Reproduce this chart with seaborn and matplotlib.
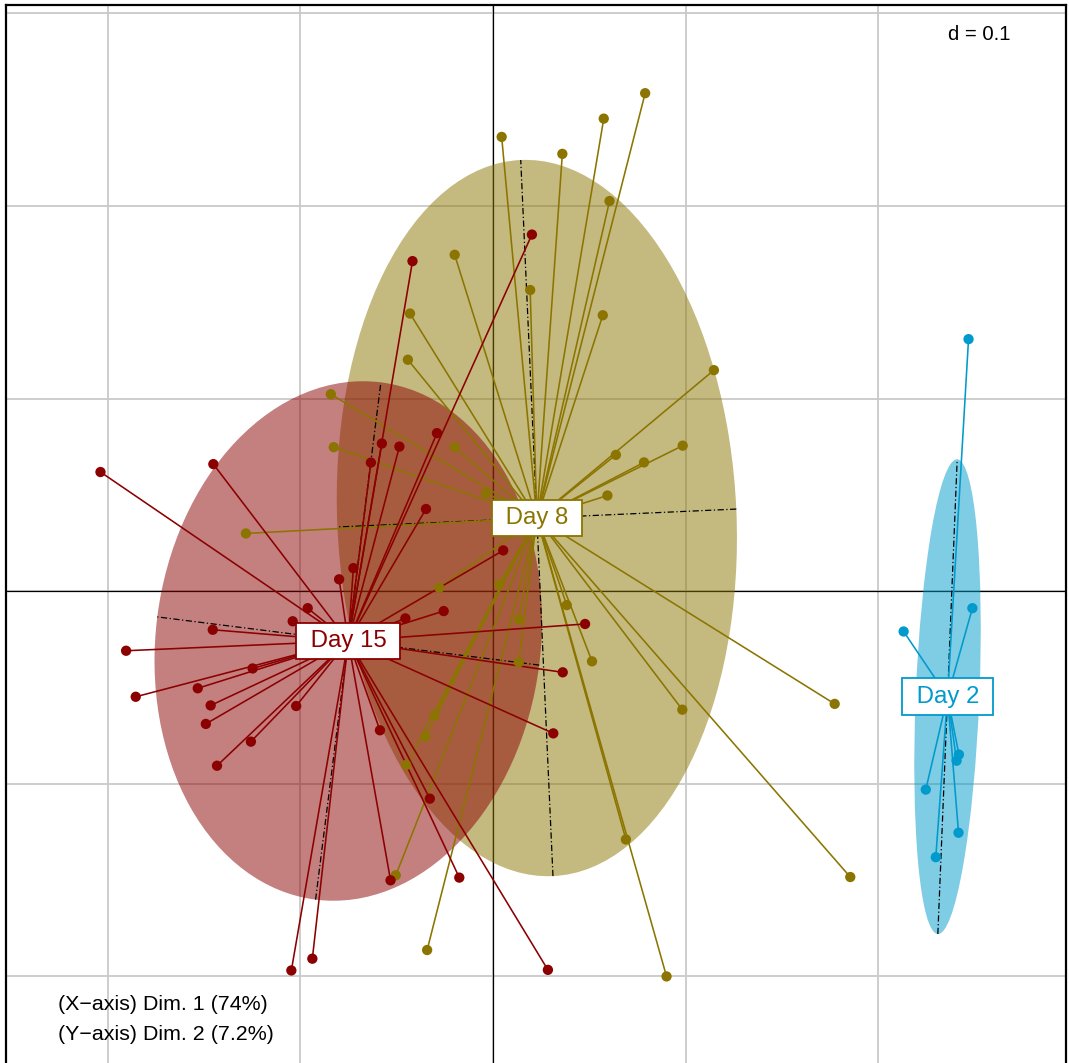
import numpy as np
import pandas as pd
import matplotlib
matplotlib.use("Agg")
import matplotlib.pyplot as plt
from matplotlib.patches import Ellipse
from matplotlib.collections import LineCollection
import seaborn as sns

# ---------------- data ----------------
groups = ["Day 8", "Day 15", "Day 2"]
colors = {"Day 8": "#8B7500", "Day 15": "#8B0000", "Day 2": "#009ACD"}

day15_x = [-0.2038, -0.1452, -0.0418, 0.0202, -0.0577, -0.0486, -0.0634, -0.0291,
           -0.0348, -0.0725, -0.0799, -0.0962, -0.1040, -0.1455, -0.1905, -0.1248,
           -0.1533, -0.1855, -0.1466, -0.1491, -0.1022, -0.1257, -0.1433, -0.0587,
           -0.0328, -0.0532, -0.0175, -0.1047, -0.0938, -0.0256, -0.0455, 0.0053,
           0.0285, 0.0313, 0.0362, 0.0478]
day15_y = [0.0619, 0.0660, 0.1714, 0.1852, 0.0767, 0.0751, 0.0668, 0.0821,
           0.0427, 0.0120, 0.0062, -0.0088, -0.0156, -0.0200, -0.0309, -0.0401,
           -0.0504, -0.0548, -0.0593, -0.0689, -0.0596, -0.0781, -0.0906, -0.0722,
           -0.1077, -0.1501, -0.1487, -0.1969, -0.1908, -0.0103, -0.0141, 0.0212,
           -0.1966, -0.0738, -0.0421, -0.0170]

day8_x = [0.0045, -0.0199, 0.0193, -0.0431, -0.0442, -0.0842, -0.0827, -0.0199,
          -0.0036, -0.1283, 0.0790, 0.0575, 0.0360, 0.0605, 0.0570, 0.1147,
          0.0985, 0.0784, 0.0638, 0.0594, -0.0279, 0.0033, 0.0134, 0.0134,
          -0.0304, -0.0351, -0.0451, -0.0505, -0.0342, 0.0383, 0.0514, 0.0983,
          0.1774, 0.0690, 0.1855, 0.0901]
day8_y = [0.2359, 0.1747, 0.1564, 0.1442, 0.1202, 0.1023, 0.0748, 0.0748,
          0.0509, 0.0300, 0.2586, 0.2454, 0.2271, 0.2026, 0.1433, 0.1148,
          0.0756, 0.0669, 0.0708, 0.0497, 0.0018, 0.0036, -0.0146, -0.0369,
          -0.0645, -0.0754, -0.0902, -0.1475, -0.1863, -0.0072, -0.0364, -0.0615,
          -0.0585, -0.1289, -0.1484, -0.2000]

day2_x = [0.2132, 0.2489, 0.2419, 0.2407, 0.2247, 0.2417, 0.2299, 0.2469]
day2_y = [-0.0209, -0.0088, -0.0848, -0.0880, -0.1030, -0.1254, -0.1381, 0.1309]

grid_x = [-0.2, -0.1, 0.0, 0.1, 0.2]
grid_y = [-0.2, -0.1, 0.0, 0.1, 0.2, 0.3]
xlim = (-0.2527, 0.2974)
ylim = (-0.2460, 0.3044)

d_label = "d = 0.1"
axis_notes = ["(X\u2212axis) Dim. 1 (74%)", "(Y\u2212axis) Dim. 2 (7.2%)"]
cellipse = 1.5

# ---------------- build table ----------------
df = pd.concat([
    pd.DataFrame({"group": "Day 8", "x": day8_x, "y": day8_y}),
    pd.DataFrame({"group": "Day 15", "x": day15_x, "y": day15_y}),
    pd.DataFrame({"group": "Day 2", "x": day2_x, "y": day2_y}),
], ignore_index=True)

# ---------------- figure ----------------
sns.set_theme(style="white")
plt.rcParams["font.family"] = ["Liberation Sans", "DejaVu Sans"]

fig = plt.figure(figsize=(10.69, 10.63), dpi=100)
ax = fig.add_axes([6.3 / 1069, -2 / 1063, 1059.5 / 1069, 1060 / 1063])
ax.set_xlim(*xlim)
ax.set_ylim(*ylim)

ax.set_xticks(grid_x)
ax.set_yticks(grid_y)
ax.grid(True, color="#C9C9C9", linewidth=1.3, zorder=0)
ax.set_axisbelow(True)
ax.tick_params(length=0, labelbottom=False, labelleft=False)
ax.axhline(0, color="black", linewidth=0.9, zorder=1)
ax.axvline(0, color="black", linewidth=0.9, zorder=1)
for sp in ax.spines.values():
    sp.set_color("black")
    sp.set_linewidth(1.6)

centroids = {}
# ellipses (computed from covariance like ade4 s.class)
for g in groups:
    sub = df[df.group == g]
    pts = sub[["x", "y"]].to_numpy()
    c = pts.mean(axis=0)
    centroids[g] = c
    cov = np.cov(pts.T, bias=True)
    evals, evecs = np.linalg.eigh(cov)
    order = np.argsort(evals)[::-1]
    evals, evecs = evals[order], evecs[:, order]
    a, b = cellipse * np.sqrt(evals)
    ang = np.degrees(np.arctan2(evecs[1, 0], evecs[0, 0]))
    ax.add_patch(Ellipse(c, 2 * a, 2 * b, angle=ang, facecolor=colors[g],
                         alpha=0.5, edgecolor="none", zorder=2))
    for v, r in ((evecs[:, 0], a), (evecs[:, 1], b)):
        ax.plot([c[0] - r * v[0], c[0] + r * v[0]], [c[1] - r * v[1], c[1] + r * v[1]],
                color="black", linewidth=0.9, linestyle=(0, (5, 2, 1, 2)), zorder=3)

# star segments
for g in groups:
    sub = df[df.group == g]
    c = centroids[g]
    segs = [[(c[0], c[1]), (px, py)] for px, py in zip(sub.x, sub.y)]
    ax.add_collection(LineCollection(segs, colors=colors[g], linewidths=1.15, zorder=4))

# points
sns.scatterplot(data=df, x="x", y="y", hue="group", palette=colors, s=55,
                linewidth=0, legend=False, ax=ax, zorder=5)
ax.set_xlabel("")
ax.set_ylabel("")

# labels
for g in groups:
    c = centroids[g]
    ax.text(c[0], c[1], " " + g + " ", ha="center", va="center", color=colors[g],
            fontsize=17.3, zorder=6,
            bbox=dict(boxstyle="square,pad=0.3", facecolor="white",
                      edgecolor=colors[g], linewidth=1.3))

ax.text((1010 - 6.3) / 1059.5, 1 - (35 - 5) / 1060, d_label,
        transform=ax.transAxes, ha="right", va="center", fontsize=14.6, color="black")
ax.text((58 - 6.3) / 1059.5, 1 - (1004 - 5) / 1060, axis_notes[0],
        transform=ax.transAxes, ha="left", va="center", fontsize=15.4, color="black")
ax.text((58 - 6.3) / 1059.5, 1 - (1034 - 5) / 1060, axis_notes[1],
        transform=ax.transAxes, ha="left", va="center", fontsize=15.4, color="black")

fig.savefig("out.png", dpi=100)
